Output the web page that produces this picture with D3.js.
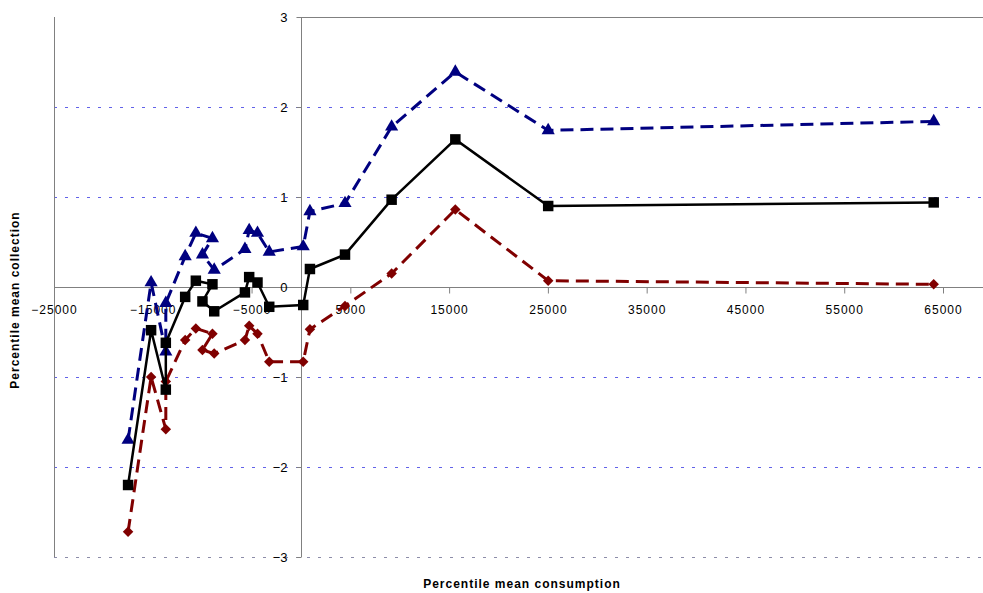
<!DOCTYPE html>
<html>
<head>
<meta charset="utf-8">
<script src="https://cdn.jsdelivr.net/npm/d3@7"></script>
<style>
  body { margin: 0; background: #fff; }
  text { font-family: "Liberation Sans", Arial, sans-serif; }
</style>
</head>
<body>
<svg id="chart" width="983" height="593"></svg>
<script>
// percentile points, in the order the series are connected
const consumption = [-17500, -15170, -13680, -13680, -11720, -10640, -8960, -9970, -8780, -5670,
                     -5240, -4400, -3210, 230, 910, 4460, 9180, 15630, 25030, 64060];
const meanCollection = [-2.2, -0.48, -1.14, -0.62, -0.11, 0.07, 0.03, -0.16, -0.27, -0.06,
                        0.11, 0.05, -0.22, -0.2, 0.2, 0.36, 0.97, 1.64, 0.9, 0.94];
const upperBound = [-1.7, 0.05, -0.72, -0.18, 0.34, 0.6, 0.54, 0.36, 0.19, 0.42,
                    0.63, 0.6, 0.39, 0.45, 0.84, 0.93, 1.78, 2.39, 1.74, 1.84];
const lowerBound = [-2.72, -1.0, -1.58, -1.05, -0.59, -0.46, -0.52, -0.7, -0.74, -0.59,
                    -0.43, -0.52, -0.83, -0.83, -0.47, -0.21, 0.15, 0.86, 0.07, 0.03];

const xTicks = [-25000, -15000, -5000, 5000, 15000, 25000, 35000, 45000, 55000, 65000];
const yTicks = [-3, -2, -1, 0, 1, 2, 3];

let svg = d3.select('#chart');
let plotLeft = 54, plotRight = 983, plotTop = 17, plotBottom = 557;

let x = d3.scaleLinear().domain([-25000, 65000]).range([54, 943]);
let y = d3.scaleLinear().domain([-3, 3]).range([plotBottom, plotTop]);

// gridlines
svg.append('g')
    .selectAll('line')
    .data(yTicks.filter((d) => d !== 0 && d !== 3))
    .enter().append('line')
    .attr('x1', plotLeft)
    .attr('x2', plotRight)
    .attr('y1', (d) => y(d) + 0.5)
    .attr('y2', (d) => y(d) + 0.5)
    .attr('stroke', (d) => d === -3 ? '#8080a0' : '#2020e0')
    .attr('stroke-opacity', (d) => d === -3 ? 0.9 : 0.7)
    .attr('stroke-width', 1)
    .attr('stroke-dasharray', '3,8');

// plot frame pieces
svg.append('line')
    .attr('x1', plotLeft + 0.5).attr('x2', plotLeft + 0.5)
    .attr('y1', plotTop).attr('y2', plotBottom)
    .attr('stroke', '#808080');
svg.append('line')
    .attr('x1', x(0) - 4).attr('x2', plotRight)
    .attr('y1', plotTop + 0.5).attr('y2', plotTop + 0.5)
    .attr('stroke', '#808080');

// x axis through y = 0
let xAxis = svg.append('g')
    .attr('transform', 'translate(0,' + (y(0) + 0.5) + ')')
    .call(d3.axisBottom(x).tickValues(xTicks).tickSize(6).tickPadding(12).tickFormat(d3.format('d')));
xAxis.select('.domain').remove();
xAxis.append('line').attr('x1', plotLeft).attr('x2', plotRight).attr('stroke', '#808080');
xAxis.selectAll('.tick line').attr('stroke', '#808080');
xAxis.selectAll('.tick text')
    .attr('fill', '#000')
    .attr('font-size', 12)
    .attr('letter-spacing', 1)
    .attr('font-family', '"Liberation Sans", Arial, sans-serif');

// y axis through x = 0
let yAxis = svg.append('g')
    .attr('transform', 'translate(' + (Math.round(x(0)) + 0.5) + ',0)')
    .call(d3.axisLeft(y).tickValues(yTicks).tickSize(5).tickPadding(9).tickFormat(d3.format('d')));
yAxis.select('.domain').remove();
yAxis.append('line').attr('y1', plotTop).attr('y2', plotBottom).attr('stroke', '#808080');
yAxis.selectAll('.tick line').attr('stroke', '#808080');
yAxis.selectAll('.tick text')
    .attr('fill', '#000')
    .attr('font-size', 13)
    .attr('font-family', '"Liberation Sans", Arial, sans-serif');

// series
let series = [
    {values: upperBound, color: '#000080', dash: '13,7', width: 3, symbol: d3.symbolTriangle, size: 75, rot: 0},
    {values: lowerBound, color: '#800000', dash: '13,7', width: 3, symbol: d3.symbolSquare, size: 55, rot: 45},
    {values: meanCollection, color: '#000000', dash: null, width: 2.5, symbol: d3.symbolSquare, size: 110, rot: 0}
];

let line = d3.line().x((d) => x(d[0])).y((d) => y(d[1]));

series.forEach((s) => {
    let pts = consumption.map((c, i) => [c, s.values[i]]);
    svg.append('path')
        .datum(pts)
        .attr('d', line)
        .attr('fill', 'none')
        .attr('stroke', s.color)
        .attr('stroke-width', s.width)
        .attr('stroke-dasharray', s.dash);
    svg.append('g')
        .selectAll('path')
        .data(pts)
        .enter().append('path')
        .attr('d', d3.symbol().type(s.symbol).size(s.size))
        .attr('transform', (d) => 'translate(' + x(d[0]) + ',' + y(d[1]) + ') rotate(' + s.rot + ')')
        .attr('fill', s.color);
});

// axis titles
svg.append('text')
    .attr('x', 522)
    .attr('y', 588)
    .attr('text-anchor', 'middle')
    .attr('font-size', 12)
    .attr('font-weight', 'bold')
    .attr('letter-spacing', 1)
    .text('Percentile mean consumption');

svg.append('text')
    .attr('transform', 'translate(19,300) rotate(-90)')
    .attr('text-anchor', 'middle')
    .attr('font-size', 12)
    .attr('font-weight', 'bold')
    .attr('letter-spacing', 1)
    .text('Percentile mean collection');
</script>
</body>
</html>
